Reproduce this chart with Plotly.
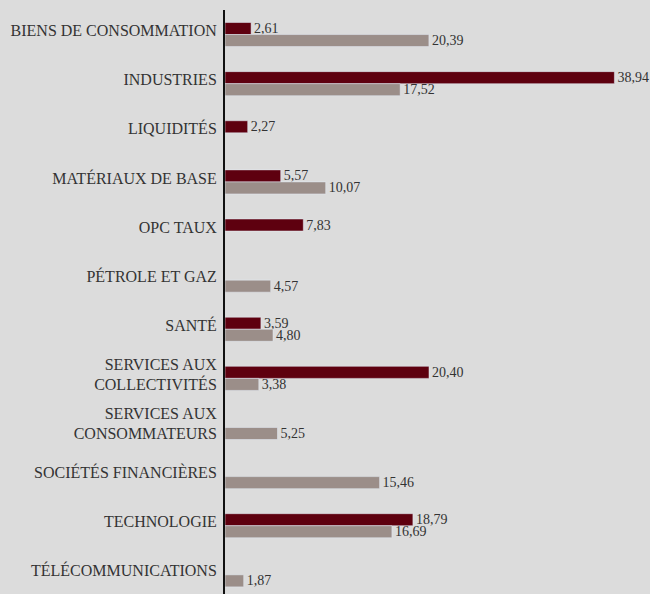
import plotly.graph_objects as go

categories = ["BIENS DE CONSOMMATION", "INDUSTRIES", "LIQUIDITÉS", "MATÉRIAUX DE BASE",
              "OPC TAUX", "PÉTROLE ET GAZ", "SANTÉ", "SERVICES AUX<br>COLLECTIVITÉS",
              "SERVICES AUX<br>CONSOMMATEURS", "SOCIÉTÉS FINANCIÈRES", "TECHNOLOGIE",
              "TÉLÉCOMMUNICATIONS"]
series_a = [2.61, 38.94, 2.27, 5.57, 7.83, None, 3.59, 20.40, None, None, 18.79, None]
series_b = [20.39, 17.52, None, 10.07, None, 4.57, 4.80, 3.38, 5.25, 15.46, 16.69, 1.87]

def fmt(vals):
    return ["" if v is None else f"{v:.2f}".replace(".", ",") for v in vals]

font_family = "Liberation Serif, serif"

fig = go.Figure()
fig.add_trace(go.Bar(y=categories, x=series_a, orientation="h", marker_color="#5e000f",
                     text=fmt(series_a), textposition="outside", cliponaxis=False,
                     constraintext="none",
                     textfont=dict(family=font_family, size=14, color="#333333"), name="A"))
fig.add_trace(go.Bar(y=categories, x=series_b, orientation="h", marker_color="#9b8e89",
                     text=fmt(series_b), textposition="outside", cliponaxis=False,
                     constraintext="none",
                     textfont=dict(family=font_family, size=14, color="#333333"), name="B"))

fig.update_layout(
    width=650, height=594,
    margin=dict(l=225, r=0, t=10, b=0),
    paper_bgcolor="#dcdcdc", plot_bgcolor="#dcdcdc",
    barmode="group", bargap=0.51, bargroupgap=0,
    showlegend=False,
    font=dict(family=font_family, color="#333333"),
)
fig.update_xaxes(range=[0, 42.5], showgrid=False, zeroline=False, showticklabels=False, showline=False)
fig.update_yaxes(range=[11.39, -0.5], showgrid=False, zeroline=False, showline=True,
                 linecolor="#111111", linewidth=2, ticks="",
                 tickfont=dict(family=font_family, size=16, color="#333333"),
                 ticklabelstandoff=3, ticklabelshift=4)

fig.write_html("out.html", config={"displayModeBar": False},
               post_script="document.body.style.margin='0';document.body.style.background='#dcdcdc';")
